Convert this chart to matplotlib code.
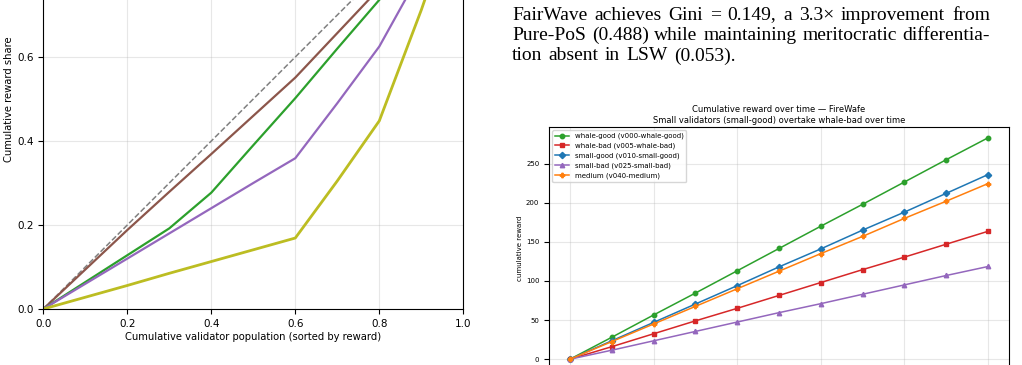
import matplotlib
matplotlib.use("Agg")
import matplotlib.pyplot as plt
import numpy as np

# Lorenz curves (left panel)
pop = [0.0, 0.1, 0.2, 0.3, 0.4, 0.5, 0.6, 0.7, 0.8, 0.9, 1.0]
lorenz_brown = [0.0, 0.094, 0.188, 0.279, 0.369, 0.46, 0.551, 0.657, 0.763, 0.88, 1.0]
lorenz_green = [0.0, 0.064, 0.128, 0.192, 0.277, 0.39, 0.502, 0.62, 0.736, 0.87, 1.0]
lorenz_purple = [0.0, 0.06, 0.12, 0.18, 0.24, 0.30, 0.359, 0.49, 0.625, 0.805, 1.0]
lorenz_olive = [0.0, 0.028, 0.056, 0.085, 0.113, 0.141, 0.169, 0.305, 0.448, 0.712, 1.0]

# Cumulative reward over time (right panel)
rounds = list(range(11))
series = [
    ("whale-good (v000-whale-good)", "#2ca02c", "o",
     [0, 28, 56.5, 84.5, 113, 141.5, 170, 198, 226.5, 255, 283]),
    ("whale-bad (v005-whale-bad)", "#d62728", "s",
     [0, 16, 32.5, 49, 65, 81.5, 98, 114.5, 130.5, 147, 163.5]),
    ("small-good (v010-small-good)", "#1f77b4", "D",
     [0, 23.5, 47, 70.5, 94, 118, 141, 165, 188, 212, 236]),
    ("small-bad (v025-small-bad)", "#9467bd", "^",
     [0, 11.5, 23.5, 35.5, 47.5, 59.5, 71, 83, 95, 107, 118.5]),
    ("medium (v040-medium)", "#ff7f0e", "P",
     [0, 22.5, 45, 67.5, 90, 112.5, 135, 157, 180, 202, 224.5]),
]

paragraph = [
    "FairWave achieves Gini = 0.149, a 3.3\u00d7 improvement from",
    "Pure-PoS (0.488) while maintaining meritocratic differentia-",
    "tion absent in LSW (0.053).",
]

W, H = 1022, 365
fig = plt.figure(figsize=(W / 100, H / 100), dpi=100, facecolor="white")

# ---- left panel: Lorenz curves ----
ax1 = fig.add_axes([43.3 / W, (H - 309) / H, 420 / W, 420 / H])
ax1.plot([0, 1], [0, 1], "--", color="gray", lw=1.1)
ax1.plot(pop, lorenz_brown, color="#8c564b", lw=1.6)
ax1.plot(pop, lorenz_green, color="#2ca02c", lw=1.6)
ax1.plot(pop, lorenz_purple, color="#9467bd", lw=1.6)
ax1.plot(pop, lorenz_olive, color="#bcbd22", lw=2.0)
ax1.set_xlim(0, 1)
ax1.set_ylim(0, 1)
ax1.grid(True, alpha=0.3)
ax1.tick_params(labelsize=7.5)
ax1.set_xlabel("Cumulative validator population (sorted by reward)",
               fontsize=7.2, labelpad=2.5)
ax1.set_ylabel("Cumulative reward share", fontsize=7.2, labelpad=2)

# ---- right panel: cumulative reward ----
ax2 = fig.add_axes([549 / W, -0.0145, 460 / W, 0.6674])
for label, color, marker, vals in series:
    ax2.plot(rounds, vals, color=color, marker=marker, markersize=3.2,
             lw=1.1, label=label)
ax2.set_xticks(range(0, 11, 2))
ax2.grid(True, alpha=0.3)
ax2.tick_params(labelsize=5)
ax2.set_ylabel("cumulative reward", fontsize=5, labelpad=2)
ax2.set_title("Cumulative reward over time \u2014 FireWafe\n"
              "Small validators (small-good) overtake whale-bad over time",
              fontsize=6, pad=3)
ax2.legend(loc="upper left", fontsize=5)

# ---- justified paragraph text ----
fig.canvas.draw()
renderer = fig.canvas.get_renderer()
x0, x1 = 512, 990
baselines = [19.5, 40.0, 60.5]
fsize = 14

gaps = []
for i, line in enumerate(paragraph):
    words = line.split(" ")
    yb = 1 - baselines[i] / H
    texts = [fig.text(0, yb, w, fontsize=fsize, family="Liberation Serif",
                      va="baseline") for w in words]
    widths = [t.get_window_extent(renderer).width for t in texts]
    if i == len(paragraph) - 1:
        # last line is not stretched: use the paragraph's typical gap
        space = np.mean(gaps)
    else:
        space = (x1 - x0 - sum(widths)) / (len(words) - 1)
        gaps.append(space)
    xpos = x0
    for t, w in zip(texts, widths):
        t.set_x(xpos / W)
        xpos += w + space

fig.savefig("out.png", dpi=100)
